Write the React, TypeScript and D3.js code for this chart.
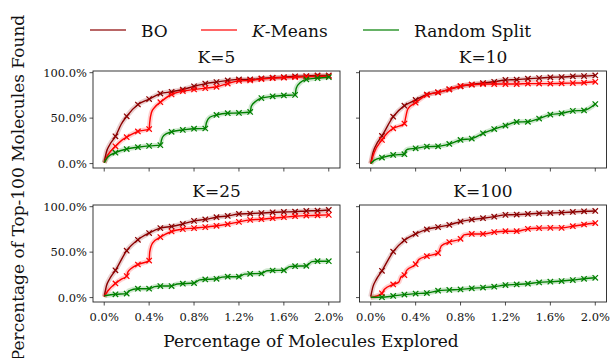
import React from 'react';
import * as d3 from 'd3';

// ---------- data (x in % explored, y in % of top-100 found) ----------
const panelTitles = ['K=5', 'K=10', 'K=25', 'K=100'];
const seriesNames = ['BO', 'K-Means', 'Random Split'];
const seriesColors = ['#8b0000', '#ff0000', '#008000'];
const xTicks = [0, 0.4, 0.8, 1.2, 1.6, 2.0];
const yTicks = [0, 50, 100];

const k5BO = [[0,1],[0.02,13],[0.05,21],[0.1,30],[0.15,43],[0.2,52],[0.3,65],[0.4,71],[0.5,77],[0.6,79],[0.7,81.5],[0.8,85],[0.9,88],[1.0,89.7],[1.1,91.5],[1.2,92.6],[1.3,92.6],[1.4,93.7],[1.5,94.5],[1.6,95],[1.7,96],[1.8,96.3],[1.9,97],[2.0,97]];
const k5KMeans = [[0,1],[0.03,9],[0.1,19],[0.15,25],[0.2,29],[0.3,35.4],[0.4,38],[0.405,45],[0.42,56],[0.45,62],[0.5,67.5],[0.6,76],[0.7,79.7],[0.8,81.5],[0.9,83],[1.0,84.5],[1.1,88],[1.2,91],[1.3,91.5],[1.4,93],[1.5,94],[1.6,94.5],[1.7,95],[1.8,95.6],[1.9,96],[2.0,96]];
const k5Random = [[0,1],[0.03,7],[0.1,12],[0.2,16],[0.3,18],[0.4,19.5],[0.5,20.3],[0.51,26],[0.53,31],[0.6,35],[0.7,37],[0.8,38.4],[0.9,38.6],[0.91,45],[0.94,51],[1.0,53.5],[1.1,55.4],[1.2,55.7],[1.3,56.8],[1.31,63],[1.35,68.5],[1.4,72],[1.5,74],[1.6,75],[1.7,75.6],[1.71,83],[1.75,89.5],[1.8,92.6],[1.9,94],[2.0,95]];

const k10BO = [[0,0],[0.02,12],[0.05,21],[0.1,30.4],[0.2,51.6],[0.3,63.7],[0.4,70],[0.5,76],[0.6,78.4],[0.7,81.7],[0.8,85],[0.9,87],[1.0,88.6],[1.1,90],[1.2,92],[1.3,92.3],[1.4,93.4],[1.5,94],[1.6,94.9],[1.7,95.2],[1.8,96],[1.9,96.3],[2.0,97]];
const k10KMeans = [[0,0],[0.03,12],[0.1,26],[0.15,34],[0.2,38.8],[0.3,44],[0.31,50],[0.33,60],[0.4,67],[0.5,75.5],[0.6,78.4],[0.7,81.7],[0.8,85.3],[0.9,86.8],[1.0,87.5],[1.1,87.5],[1.2,87.5],[1.3,87.5],[1.4,88],[1.5,88],[1.6,88],[1.7,88.3],[1.8,88.6],[1.9,89],[2.0,90]];
const k10Random = [[0,0],[0.03,3.5],[0.1,6.6],[0.2,9.5],[0.3,10.3],[0.31,14],[0.33,15.8],[0.4,16.8],[0.5,18.7],[0.6,19],[0.7,21.6],[0.8,26],[0.9,27.5],[1.0,33.3],[1.1,38],[1.2,41.8],[1.3,45.8],[1.4,46],[1.5,49.5],[1.6,53.8],[1.7,55.3],[1.8,58],[1.9,58.5],[2.0,65.5]];

const k25BO = [[0,1],[0.02,13],[0.05,21],[0.1,30],[0.2,51.6],[0.3,63.6],[0.4,71],[0.5,76.4],[0.6,78.2],[0.7,81],[0.8,84.4],[0.9,86],[1.0,88.4],[1.1,89.8],[1.2,92],[1.3,92.4],[1.4,93],[1.5,93.8],[1.6,94.2],[1.7,94.5],[1.8,95.3],[1.9,95.6],[2.0,96.4]];
const k25KMeans = [[0,1],[0.03,7],[0.1,15.6],[0.15,20],[0.2,23.6],[0.21,28],[0.24,32],[0.3,36.4],[0.4,40.7],[0.405,50],[0.43,60],[0.5,66.5],[0.6,72.7],[0.7,75.3],[0.8,76.4],[0.9,77.5],[1.0,79],[1.1,80.7],[1.2,83.3],[1.3,85.5],[1.4,86.2],[1.5,87.3],[1.6,88.4],[1.7,89.5],[1.8,90.2],[1.9,90.5],[2.0,91]];
const k25Random = [[0,2],[0.1,3.6],[0.2,4.4],[0.22,7.5],[0.3,9.8],[0.4,9.8],[0.45,12],[0.5,12.7],[0.6,12.7],[0.65,15],[0.7,15.3],[0.8,16],[0.85,19.5],[0.9,20],[1.0,20.7],[1.05,22.5],[1.1,23],[1.2,23],[1.25,25.8],[1.3,26.2],[1.4,26.5],[1.45,29.5],[1.5,29.8],[1.6,30],[1.65,34],[1.7,34.5],[1.8,35],[1.85,39.5],[1.9,40],[2.0,40]];

const k100BO = [[0,1],[0.02,12],[0.05,20],[0.1,29.5],[0.2,50.5],[0.3,63],[0.4,70],[0.5,75],[0.6,77.5],[0.7,80],[0.8,83.6],[0.9,85.8],[1.0,87.3],[1.1,89],[1.2,91],[1.3,91.3],[1.4,92],[1.5,92.7],[1.6,93],[1.7,93.5],[1.8,94.2],[1.9,94.9],[2.0,95.3]];
const k100KMeans = [[0,0],[0.1,4.7],[0.12,9],[0.2,14.5],[0.25,17],[0.27,23],[0.3,24.7],[0.32,30],[0.4,36.7],[0.43,42],[0.5,45.5],[0.6,49],[0.63,57],[0.7,61],[0.8,64.7],[0.83,69],[0.9,70],[1.0,70],[1.1,72],[1.2,73],[1.3,73],[1.4,75.6],[1.5,76.4],[1.6,76.7],[1.7,76.7],[1.8,78.5],[1.9,80.4],[2.0,82]];
const k100Random = [[0,0.4],[0.1,0.4],[0.2,1.8],[0.3,3.3],[0.4,4.4],[0.5,5],[0.6,7.6],[0.7,8.4],[0.8,9],[0.9,10.2],[1.0,11],[1.1,12],[1.2,13.8],[1.3,14.5],[1.4,15.3],[1.5,16.7],[1.6,17.5],[1.7,18.2],[1.8,19.3],[1.9,20.7],[2.0,21.8]];

const panelSeries = [
  [k5BO, k5KMeans, k5Random],
  [k10BO, k10KMeans, k10Random],
  [k25BO, k25KMeans, k25Random],
  [k100BO, k100KMeans, k100Random],
];

// ---------- layout ----------
const W = 610, H = 358;
const FONT = 'DejaVu Serif';
const colLeft = [93, 359.5];
const rowTop = [71, 205];
const boxW = 247, boxH = 97;

const fmt = (v: number) => v.toFixed(1) + '%';

function Panel({ idx }: { idx: number }) {
  const col = idx % 2, row = Math.floor(idx / 2);
  const left = colLeft[col], top = rowTop[row];
  const x = d3.scaleLinear().domain([-0.1, 2.1]).range([left, left + boxW]);
  const y = d3.scaleLinear().domain([-4.85, 101.85]).range([top + boxH, top]);
  const line = d3.line<number[]>().x(d => x(d[0])).y(d => y(d[1])).curve(d3.curveMonotoneX);
  const series = panelSeries[idx];
  const ms = 2.7;
  return (
    <g>
      <text x={left + boxW / 2} y={top - 8.5} textAnchor="middle" fontSize={17} fontFamily={FONT} fill="#111">{panelTitles[idx]}</text>
      {series.map((s, i) => (
        <path key={'b' + i} d={line(s) || ''} fill="none" stroke={seriesColors[i]} strokeOpacity={0.18} strokeWidth={5} strokeLinejoin="round" />
      ))}
      {series.map((s, i) => (
        <g key={'l' + i}>
          <path d={line(s) || ''} fill="none" stroke={seriesColors[i]} strokeWidth={1.4} />
          {s.filter(d => d[0] > 0 && Math.abs(d[0] * 10 - Math.round(d[0] * 10)) < 1e-6).map((d, j) => {
            const cx = x(d[0]), cy = y(d[1]);
            return (
              <path key={j} d={`M${cx - ms},${cy - ms}L${cx + ms},${cy + ms}M${cx - ms},${cy + ms}L${cx + ms},${cy - ms}`} stroke={seriesColors[i]} strokeWidth={1.2} />
            );
          })}
        </g>
      ))}
      <rect x={left} y={top} width={boxW} height={boxH} fill="none" stroke="#222" strokeWidth={0.9} />
      {yTicks.map(t => (
        <g key={'y' + t}>
          <line x1={left - 3.5} x2={left} y1={y(t)} y2={y(t)} stroke="#222" strokeWidth={0.8} />
          {col === 0 && (
            <text x={left - 6} y={y(t)} dy="0.36em" textAnchor="end" fontSize={11.5} fontFamily={FONT} fill="#111">{fmt(t)}</text>
          )}
        </g>
      ))}
      {xTicks.map(t => (
        <g key={'x' + t}>
          <line x1={x(t)} x2={x(t)} y1={top + boxH} y2={top + boxH + 3.5} stroke="#222" strokeWidth={0.8} />
          {row === 1 && (
            <text x={x(t)} y={top + boxH + 18.5} textAnchor="middle" fontSize={11.5} fontFamily={FONT} fill="#111">{fmt(t)}</text>
          )}
        </g>
      ))}
    </g>
  );
}

const legendX = [90, 201, 363];

export default function App() {
  return (
    <svg width={W} height={H} style={{ position: 'fixed', left: 0, top: 0, background: '#fff' }}>
      <rect x={0} y={0} width={W} height={H} fill="#fff" />
      {seriesNames.map((n, i) => (
        <g key={n}>
          <line x1={legendX[i]} x2={legendX[i] + 36} y1={30} y2={30} stroke={seriesColors[i]} strokeWidth={1.3} strokeOpacity={0.8} />
          <text x={legendX[i] + 51} y={36.5} fontSize={17} fontFamily={FONT} fill="#111">
            {n === 'K-Means' ? (<><tspan fontStyle="italic">K</tspan>-Means</>) : n}
          </text>
        </g>
      ))}
      {panelTitles.map((_, i) => <Panel key={i} idx={i} />)}
      <text transform="translate(24,188) rotate(-90)" textAnchor="middle" fontSize={17} fontFamily={FONT} fill="#111">Percentage of Top-100 Molecules Found</text>
      <text x={311} y={347} textAnchor="middle" fontSize={17} fontFamily={FONT} fill="#111">Percentage of Molecules Explored</text>
    </svg>
  );
}
